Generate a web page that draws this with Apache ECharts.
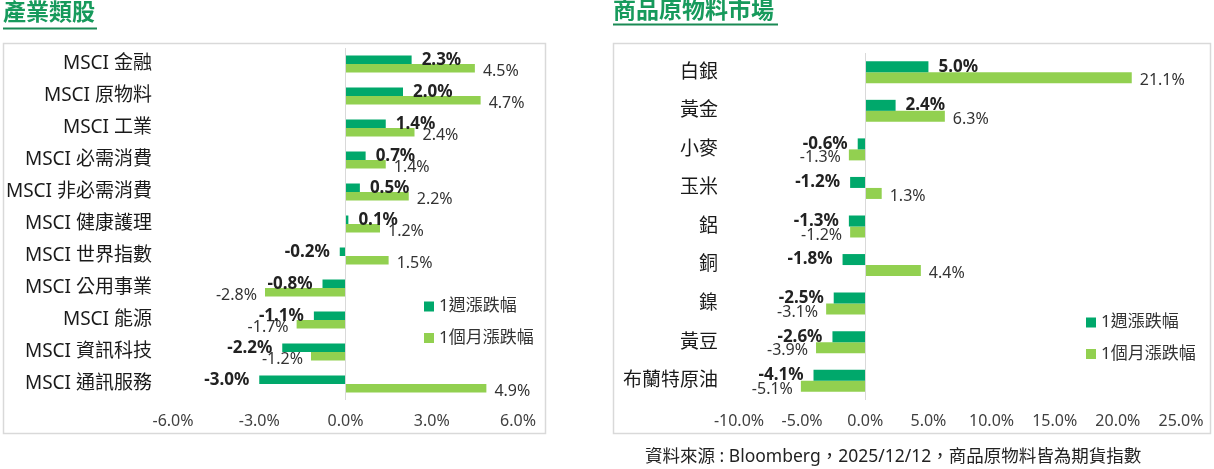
<!DOCTYPE html>
<html>
<head>
<meta charset="utf-8">
<title>產業類股 / 商品原物料市場</title>
<script src="https://cdn.jsdelivr.net/npm/echarts@6/dist/echarts.min.js"></script>
<style>
	html, body { margin: 0; padding: 0; background: #fff; }
	#main { width: 1214px; height: 469px; }
</style>
</head>
<body>
<div id="main"></div>
<script>
'use strict';

// 圖例名稱
var seriesNames = ['1週漲跌幅', '1個月漲跌幅'];

// 產業類股
var industryCats = ['MSCI 金融', 'MSCI 原物料', 'MSCI 工業', 'MSCI 必需消費', 'MSCI 非必需消費',
	'MSCI 健康護理', 'MSCI 世界指數', 'MSCI 公用事業', 'MSCI 能源', 'MSCI 資訊科技', 'MSCI 通訊服務'];
var industryWeek = [2.3, 2.0, 1.4, 0.7, 0.5, 0.1, -0.2, -0.8, -1.1, -2.2, -3.0];
var industryMonth = [4.5, 4.7, 2.4, 1.4, 2.2, 1.2, 1.5, -2.8, -1.7, -1.2, 4.9];
var industryTicks = [-6, 6, 3];   // min, max, interval

// 商品原物料市場
var commodityCats = ['白銀', '黃金', '小麥', '玉米', '鋁', '銅', '鎳', '黃豆', '布蘭特原油'];
var commodityWeek = [5.0, 2.4, -0.6, -1.2, -1.3, -1.8, -2.5, -2.6, -4.1];
var commodityMonth = [21.1, 6.3, -1.3, 1.3, -1.2, 4.4, -3.1, -3.9, -5.1];
var commodityTicks = [-10, 25, 5];

var sourceText = '資料來源 : Bloomberg，2025/12/12，商品原物料皆為期貨指數';

var FONT = '"Noto Sans", "Noto Sans CJK TC", sans-serif';
var DARK = '#00a86b';
var LIGHT = '#92d050';
var TITLE_GREEN = '#179a5c';

function pct(v) {
	return Number(v).toFixed(1) + '%';
}

// 正值標籤放右邊，負值放左邊
function withLabels(values) {
	return values.map(function(v) {
		return { value: v, label: { position: v < 0 ? 'left' : 'right' } };
	});
}

function buildSeries(week, month, idx, barWidth) {
	return [
		{
			name: seriesNames[0],
			type: 'bar',
			xAxisIndex: idx,
			yAxisIndex: idx,
			barWidth: barWidth,
			barGap: '0%',
			itemStyle: { color: DARK },
			label: {
				show: true,
				distance: 10,
				fontFamily: FONT,
				fontSize: 17,
				fontWeight: 'bold',
				color: '#222',
				formatter: function(p) { return pct(p.value); }
			},
			data: withLabels(week),
			markLine: {
				silent: true,
				symbol: ['none', 'none'],
				label: { show: false },
				lineStyle: { color: '#d9d9d9', width: 1, type: 'solid' },
				data: [{ xAxis: 0 }]
			},
			z: 3
		},
		{
			name: seriesNames[1],
			type: 'bar',
			xAxisIndex: idx,
			yAxisIndex: idx,
			barWidth: barWidth,
			barGap: '0%',
			itemStyle: { color: LIGHT },
			label: {
				show: true,
				distance: 8,
				offset: [0, 3],
				fontFamily: FONT,
				fontSize: 16,
				color: '#333',
				formatter: function(p) { return pct(p.value); }
			},
			data: withLabels(month),
			z: 2
		}
	];
}

function valueAxis(idx, ticks) {
	return {
		type: 'value',
		gridIndex: idx,
		min: ticks[0],
		max: ticks[1],
		interval: ticks[2],
		axisLine: { show: false },
		axisTick: { show: false },
		splitLine: { show: false },
		axisLabel: {
			margin: 13,
			fontFamily: FONT,
			fontSize: 16,
			color: '#404040',
			formatter: function(v) { return pct(v); }
		}
	};
}

function categoryAxis(idx, cats) {
	return {
		type: 'category',
		gridIndex: idx,
		inverse: true,
		data: cats,
		axisLine: { show: false },
		axisTick: { show: false },
		axisLabel: {
			margin: 21,
			fontFamily: FONT,
			fontSize: 19,
			color: '#1a1a1a'
		}
	};
}

function buildChart() {
	var myChart = echarts.init(document.getElementById('main'), null, { renderer: 'canvas' });

	var option = {
		backgroundColor: '#fff',
		animation: false,
		title: [
			{ text: '產業類股', left: 3, top: 2, padding: 0,
				textStyle: { fontFamily: FONT, fontSize: 23, fontWeight: 'bold', color: TITLE_GREEN } },
			{ text: '商品原物料市場', left: 613, top: 0, padding: 0,
				textStyle: { fontFamily: FONT, fontSize: 23, fontWeight: 'bold', color: TITLE_GREEN } },
			{ text: sourceText, left: 645, top: 448, padding: 0,
				textStyle: { fontFamily: FONT, fontSize: 17.5, fontWeight: 'normal', color: '#222' } }
		],
		// 外框與標題底線
		graphic: [
			{ type: 'rect', shape: { x: 3.5, y: 43.5, width: 542, height: 390 },
				style: { fill: 'none', stroke: '#d9d9d9', lineWidth: 1.5 }, z: -1 },
			{ type: 'rect', shape: { x: 613.5, y: 43.5, width: 597, height: 390 },
				style: { fill: 'none', stroke: '#d9d9d9', lineWidth: 1.5 }, z: -1 },
			{ type: 'line', shape: { x1: 3, y1: 28.5, x2: 97, y2: 28.5 },
				style: { stroke: '#1a8a55', lineWidth: 2 } },
			{ type: 'line', shape: { x1: 613, y1: 24.5, x2: 778, y2: 24.5 },
				style: { stroke: '#1a8a55', lineWidth: 2 } }
		],
		legend: [
			{ orient: 'vertical', left: 424, top: 298, padding: 0, icon: 'rect', itemWidth: 10, itemHeight: 10,
				itemGap: 14.5, data: seriesNames,
				textStyle: { fontFamily: FONT, fontSize: 17, color: '#333' } },
			{ orient: 'vertical', left: 1086, top: 314, padding: 0, icon: 'rect', itemWidth: 10, itemHeight: 10,
				itemGap: 14.5, data: seriesNames,
				textStyle: { fontFamily: FONT, fontSize: 17, color: '#333' } }
		],
		grid: [
			{ left: 173, right: 696, top: 48, bottom: 69 },
			{ left: 739, right: 33, top: 53, bottom: 69 }
		],
		xAxis: [valueAxis(0, industryTicks), valueAxis(1, commodityTicks)],
		yAxis: [categoryAxis(0, industryCats), categoryAxis(1, commodityCats)],
		series: buildSeries(industryWeek, industryMonth, 0, 8.5)
			.concat(buildSeries(commodityWeek, commodityMonth, 1, 11))
	};

	myChart.setOption(option);
}

window.onload = function() {
	buildChart();
};
</script>
</body>
</html>
